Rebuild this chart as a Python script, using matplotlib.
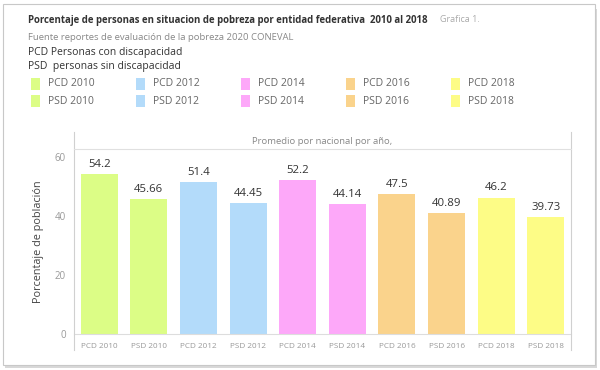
import matplotlib

matplotlib.use("Agg")
import matplotlib.pyplot as plt
from matplotlib.patches import Rectangle
from matplotlib.lines import Line2D

plt.rcParams["font.family"] = ["Open Sans", "DejaVu Sans"]

categories = ["PCD 2010", "PSD 2010", "PCD 2012", "PSD 2012", "PCD 2014",
              "PSD 2014", "PCD 2016", "PSD 2016", "PCD 2018", "PSD 2018"]
values = [54.2, 45.66, 51.4, 44.45, 52.2, 44.14, 47.5, 40.89, 46.2, 39.73]
value_labels = ["54.2", "45.66", "51.4", "44.45", "52.2", "44.14", "47.5", "40.89", "46.2", "39.73"]
year_colors = ["#dcfd86", "#dcfd86", "#b3dbfa", "#b3dbfa", "#fda8f9",
               "#fda8f9", "#fad38c", "#fad38c", "#fdfc86", "#fdfc86"]
yticks = [0, 20, 40, 60]

W, H = 600, 370
fig = plt.figure(figsize=(6, 3.7), dpi=100)


def fx(px):
    return px / W


def fy(py):
    return 1 - py / H


# outer frame with a soft shadow (behind everything)
fig.patches.append(Rectangle((fx(5), fy(368)), fx(592), 359 / H,
                             transform=fig.transFigure, facecolor="#d8d8d8",
                             edgecolor="none", zorder=-2))
fig.patches.append(Rectangle((fx(3), fy(365)), fx(592), 361 / H,
                             transform=fig.transFigure, facecolor="white",
                             edgecolor="#c8c8c8", linewidth=0.8, zorder=-1))

# header texts
fig.text(fx(28), fy(20), "Porcentaje de personas en situacion de pobreza por entidad federativa  2010 al 2018",
         fontsize=6.95, fontweight="bold", color="#333333", va="center")
fig.text(fx(440), fy(20), "Grafica 1.", fontsize=6.5, color="#aaaaaa", va="center")
fig.text(fx(28), fy(37), "Fuente reportes de evaluación de la pobreza 2020 CONEVAL",
         fontsize=6.8, color="#888888", va="center")
fig.text(fx(28), fy(52), "PCD Personas con discapacidad", fontsize=7.5, color="#333333", va="center")
fig.text(fx(28), fy(67), "PSD  personas sin discapacidad", fontsize=7.5, color="#333333", va="center")

# legend grid
for i, (cat, col) in enumerate(zip(categories, year_colors)):
    c = i // 2
    r = i % 2
    x0 = 31 + c * 105
    yc = 84 + r * 17
    fig.patches.append(Rectangle((fx(x0), fy(yc + 6)), fx(9), 12 / H,
                                 transform=fig.transFigure, facecolor=col,
                                 edgecolor="none"))
    fig.text(fx(x0 + 17), fy(yc), cat, fontsize=7.5, color="#666666", va="center")

# chart area
left, right, top, bottom = 74.3, 570.7, 149.3, 334.3
ax = fig.add_axes([fx(left), fy(bottom), fx(right - left), (bottom - top) / H])
ax.set_facecolor("none")
x = range(len(categories))
ax.bar(x, values, width=0.745, color=year_colors, edgecolor="none")
for xi, v, lab in zip(x, values, value_labels):
    ax.text(xi, v + 1.4, lab, ha="center", va="bottom", fontsize=8.2, color="#333333")
ax.set_xlim(-0.5, len(categories) - 0.5)
ax.set_ylim(0, 62.5)
ax.set_yticks(yticks)
ax.set_yticklabels([str(t) for t in yticks], fontsize=7, color="#999999")
ax.set_xticks(list(x))
ax.set_xticklabels(categories, fontsize=5.9, color="#999999")
ax.tick_params(axis="y", length=0, pad=6)
ax.tick_params(axis="x", length=0, pad=6)
for s in ax.spines.values():
    s.set_visible(False)
ax.spines["bottom"].set_visible(True)
ax.spines["bottom"].set_color("#dddddd")
ax.spines["bottom"].set_linewidth(0.8)
ax.set_ylabel("Porcentaje de población", fontsize=7.8, color="#444444", labelpad=8)

# vertical pane borders and header band
for px in (left, right):
    fig.add_artist(Line2D([fx(px), fx(px)], [fy(132), fy(350)], color="#d0d0d0",
                          linewidth=0.8, transform=fig.transFigure))
fig.add_artist(Line2D([fx(left), fx(right)], [fy(top), fy(top)], color="#e0e0e0",
                      linewidth=0.8, transform=fig.transFigure))
fig.text(fx((left + right) / 2), fy(141), "Promedio por nacional por año,",
         fontsize=6.8, color="#888888", ha="center", va="center")

fig.savefig("out.png", dpi=100)
